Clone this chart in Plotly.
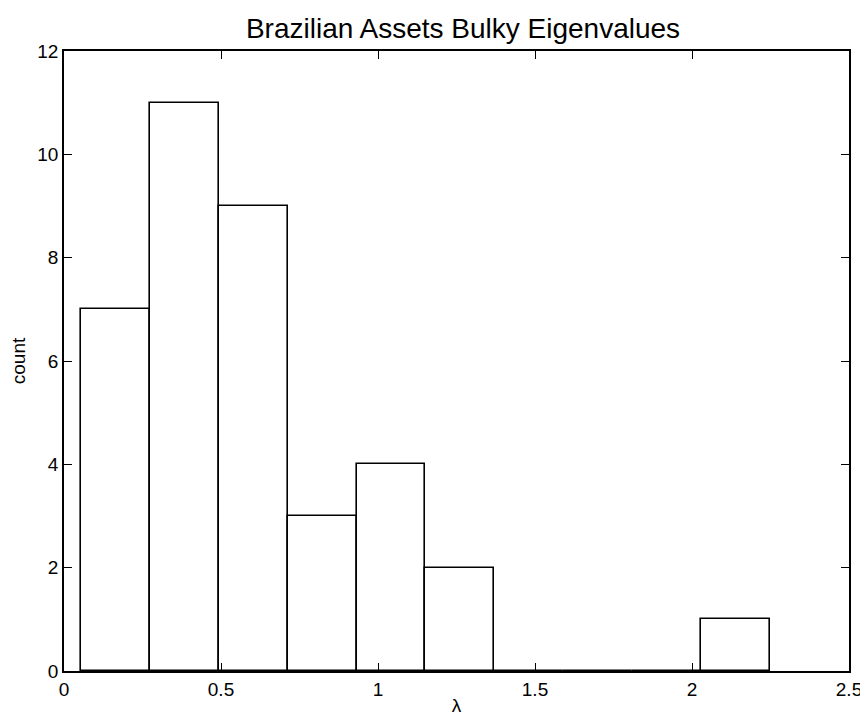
import plotly.graph_objects as go

bin_start = 0.055
bin_width = 0.2192
counts = [7, 11, 9, 3, 4, 2, 0, 0, 0, 1]
centers = [bin_start + bin_width * (i + 0.5) for i in range(len(counts))]

x_ticks = [0, 0.5, 1, 1.5, 2, 2.5]
x_tick_labels = ["0", "0.5", "1", "1.5", "2", "2.5"]
y_ticks = [0, 2, 4, 6, 8, 10, 12]

# page body has an 8px default margin; compensate
W, H = 860, 717

fig = go.Figure()
fig.add_trace(go.Bar(
    x=centers, y=counts, width=bin_width,
    marker=dict(color="white", line=dict(color="black", width=1.6)),
    showlegend=False,
))

font = "Liberation Sans, Arial, Helvetica, sans-serif"
fig.update_layout(
    width=W, height=H,
    margin=dict(l=56, r=19, t=43, b=54),
    paper_bgcolor="white", plot_bgcolor="white",
    font=dict(family=font, size=19, color="black"),
    title=dict(text="Brazilian Assets Bulky Eigenvalues", x=(463 - 8) / W, xanchor="center",
               y=1 - 20 / H, yanchor="middle",
               font=dict(family=font, size=28, color="black")),
    bargap=0,
)
fig.update_xaxes(
    range=[0, 2.5], tickvals=x_ticks, ticktext=x_tick_labels,
    tickfont=dict(size=19),
    showgrid=False, zeroline=False, showline=True, linecolor="black", linewidth=1.5,
    mirror="ticks", ticks="inside", ticklen=8, tickcolor="black", tickwidth=1,
    automargin=False,
    title=dict(text="λ", standoff=0, font=dict(size=19)),
)
fig.update_yaxes(
    range=[0, 12], tickvals=y_ticks,
    tickfont=dict(size=19),
    showgrid=False, zeroline=False, showline=True, linecolor="black", linewidth=1.5,
    mirror="ticks", ticks="inside", ticklen=8, tickcolor="black", tickwidth=1,
    automargin=False,
    title=dict(text="count", standoff=10, font=dict(size=19)),
)
fig.write_html("out.html")
